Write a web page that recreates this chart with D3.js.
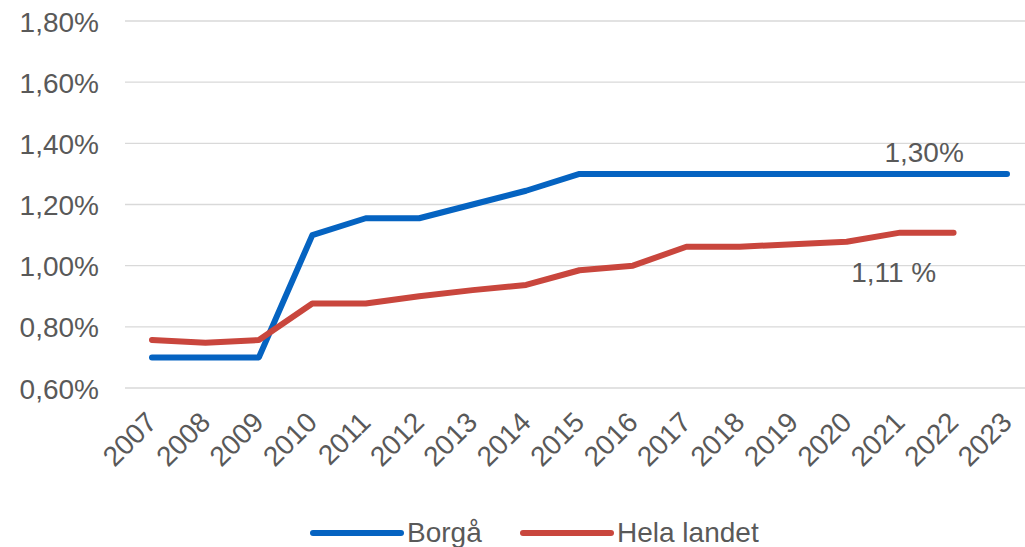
<!DOCTYPE html>
<html>
<head>
<meta charset="utf-8">
<script src="https://cdn.jsdelivr.net/npm/d3@7"></script>
<style>
  body { margin: 0; background: #fff; }
  svg { display: block; font-family: "Liberation Sans", Arial, sans-serif; }
</style>
</head>
<body>
<svg id="chart" width="1025" height="547"></svg>
<script>
const years = ["2007","2008","2009","2010","2011","2012","2013","2014","2015","2016","2017","2018","2019","2020","2021","2022","2023"];
const borga = [0.70,0.70,0.70,1.10,1.155,1.155,1.20,1.245,1.30,1.30,1.30,1.30,1.30,1.30,1.30,1.30,1.30];
const helaLandet = [0.757,0.748,0.757,0.876,0.876,0.90,0.92,0.937,0.985,1.00,1.062,1.062,1.07,1.078,1.108,1.108];
const yTicks = [0.6,0.8,1.0,1.2,1.4,1.6,1.8];
const seriesNames = ["Borgå","Hela landet"];
const colors = ["#0563c1","#c9463d"];

const svg = d3.select("#chart");
const textColor = "#595959";

const x = d3.scalePoint().domain(years).range([152, 1007]);
const y = d3.scaleLinear().domain([0.6, 1.8]).range([388, 21]);

const fmt = v => d3.format(".2f")(v).replace(".", ",") + "%";

// gridlines
svg.append("g")
  .selectAll("line")
  .data(yTicks)
  .enter().append("line")
  .attr("x1", 125).attr("x2", 1025)
  .attr("y1", d => y(d)).attr("y2", d => y(d))
  .attr("stroke", "#d9d9d9")
  .attr("stroke-width", 1.3);

// y axis labels
const yAxis = svg.append("g")
  .attr("transform", "translate(99,0)")
  .call(d3.axisLeft(y).tickValues(yTicks).tickFormat(fmt).tickSize(0).tickPadding(0));
yAxis.select(".domain").remove();
yAxis.selectAll("text")
  .attr("fill", textColor)
  .attr("font-size", 28)
  .attr("font-family", "Liberation Sans, Arial, sans-serif")
  .attr("dy", "0.36em");

// x axis labels
const xAxis = svg.append("g")
  .attr("transform", "translate(0,424)")
  .call(d3.axisBottom(x).tickSize(0).tickPadding(0));
xAxis.select(".domain").remove();
xAxis.selectAll("text")
  .attr("fill", textColor)
  .attr("font-size", 28)
  .attr("font-family", "Liberation Sans, Arial, sans-serif")
  .attr("text-anchor", "end")
  .attr("dy", 0)
  .attr("y", 0)
  .attr("transform", "translate(6,0) rotate(-45)");

// lines
const line = d3.line()
  .x((d, i) => x(years[i]))
  .y(d => y(d));

[borga, helaLandet].forEach((vals, k) => {
  svg.append("path")
    .datum(vals)
    .attr("fill", "none")
    .attr("stroke", colors[k])
    .attr("stroke-width", 6)
    .attr("stroke-linejoin", "round")
    .attr("stroke-linecap", "round")
    .attr("d", line);
});

// data labels
svg.append("text")
  .attr("x", x("2021") + 24).attr("y", 162)
  .attr("text-anchor", "middle")
  .attr("font-size", 28).attr("fill", textColor)
  .text("1,30%");
svg.append("text")
  .attr("x", x("2020") + 47).attr("y", 282)
  .attr("text-anchor", "middle")
  .attr("font-size", 28).attr("fill", textColor)
  .text("1,11 %");

// legend
const legendItems = [
  { name: seriesNames[0], color: colors[0], x0: 313 },
  { name: seriesNames[1], color: colors[1], x0: 523 }
];
const legend = svg.append("g");
legendItems.forEach(it => {
  legend.append("line")
    .attr("x1", it.x0).attr("x2", it.x0 + 88)
    .attr("y1", 533).attr("y2", 533)
    .attr("stroke", it.color)
    .attr("stroke-width", 6)
    .attr("stroke-linecap", "round");
  legend.append("text")
    .attr("x", it.x0 + 94).attr("y", 542)
    .attr("font-size", 28).attr("fill", textColor)
    .text(it.name);
});
</script>
</body>
</html>
